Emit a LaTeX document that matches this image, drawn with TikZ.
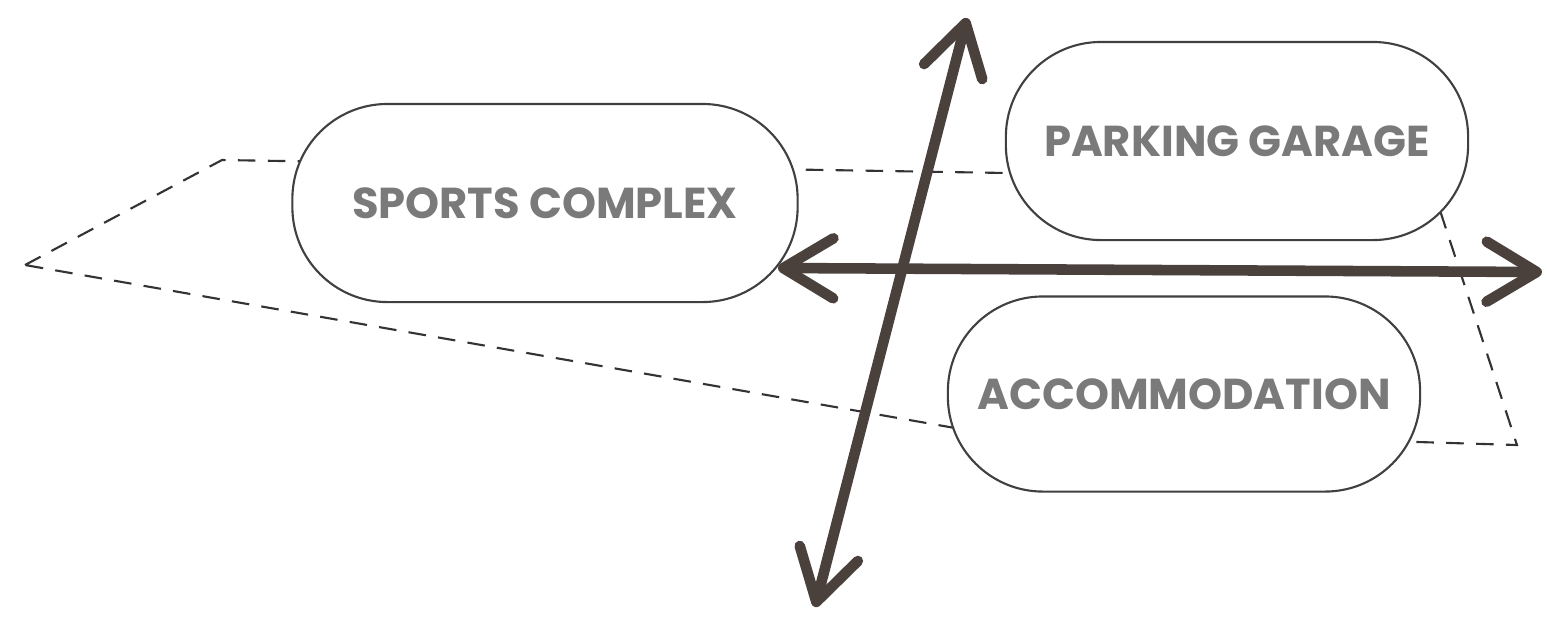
\documentclass[tikz,border=0pt]{standalone}
\usepackage{fontspec}
\newfontfamily\labelfont{Poppins}
\usetikzlibrary{positioning}
\usetikzlibrary{arrows.meta}

\definecolor{inkgray}{HTML}{7A7A7A}
\definecolor{arrowbrown}{HTML}{4A403C}

\begin{document}
\begin{tikzpicture}[>={Straight Barb[length=5mm,width=6mm,round]},font=\labelfont\bfseries,x=0.01cm,y=-0.01cm]
	\fill [white] (0,0) rectangle (1547,617);
	\useasboundingbox (0,0) rectangle (1547,617);

	% dashed outline of the site
	\coordinate (site_w) at (25,265);
	\coordinate (site_nw) at (222,160);
	\coordinate (site_ne) at (1430,180);
	\coordinate (site_se) at (1517,445);
	\coordinate (site_s) at (955,428);
	\draw [dash pattern=on 5pt off 3.5pt,line width=0.6pt,black!80] (site_w) -- (site_nw) -- (site_ne) -- (site_se) -- (site_s) -- cycle;

	\node [minimum width=5.05cm,minimum height=1.98cm,rounded corners=0.95cm,draw=black!75,fill=white,semithick,text=inkgray,font=\labelfont\bfseries\fontsize{12.3}{15}\selectfont] at (545,203) (sports) {SPORTS COMPLEX};
	\node [minimum width=4.62cm,minimum height=1.98cm,rounded corners=0.95cm,draw=black!75,fill=white,semithick,text=inkgray,font=\labelfont\bfseries\fontsize{12.3}{15}\selectfont] at (1237,141) (parking) {PARKING GARAGE};
	\node [minimum width=4.72cm,minimum height=1.95cm,rounded corners=0.95cm,draw=black!75,fill=white,semithick,text=inkgray,font=\labelfont\bfseries\fontsize{12.3}{15}\selectfont] at (1184,394) (accomm) {ACCOMMODATION};

	% axes
	\coordinate (axis_w) at (778,268);
	\coordinate (axis_e) at (1542,272);
	\coordinate (axis_s) at (815,607);
	\coordinate (axis_n) at (967,18);
	\draw [<->,line width=3pt,arrowbrown,line cap=round] (axis_w) -- (axis_e);
	\draw [<->,line width=3pt,arrowbrown,line cap=round] (axis_s) -- (axis_n);
\end{tikzpicture}
\end{document}
